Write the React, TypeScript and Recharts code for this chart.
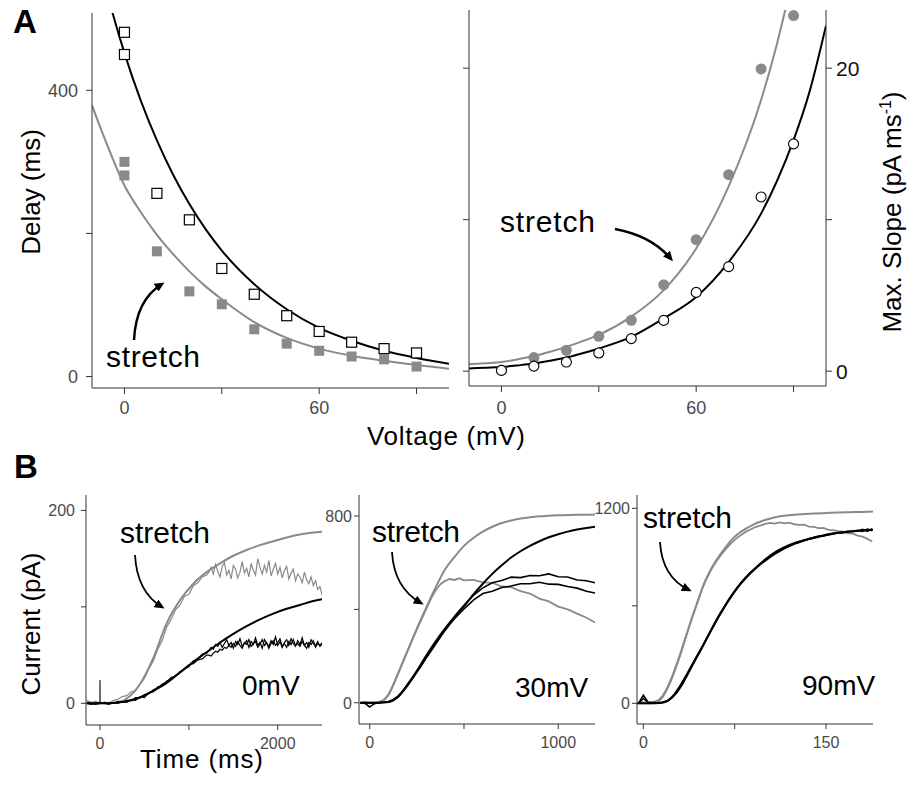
import React from 'react';
import { ComposedChart, LineChart, Line, Scatter, XAxis, YAxis } from 'recharts';

const FONT = '"Liberation Sans", Arial, Helvetica, sans-serif';
const GRAY = '#8a8a8a';
const BLACK = '#000000';
const AXIS = '#333333';
const TICK_TXT = '#4a4a4a';

// ---- Panel A, left: delay vs voltage ----
const delayVolts = [0, 0, 10, 20, 30, 40, 50, 60, 70, 80, 90];
const delayControl = [481, 450, 256, 219, 151, 115, 85, 63, 48, 39, 33];
const delayStretch = [300, 281, 175, 119, 101, 66, 46, 36, 28, 24, 14];
const delayFitVolts = [-10, -5, 0, 5, 10, 15, 20, 25, 30, 40, 50, 60, 70, 80, 90, 100];
const delayFitControl = [620, 530, 452, 386, 330, 282, 241, 206, 176, 129, 94, 68, 50, 36, 26, 18];
const delayFitStretch = [379, 320, 267, 230, 198, 171, 147, 126, 108, 76, 54, 39, 29, 22, 16, 11];

// ---- Panel A, right: max slope vs voltage ----
const slopeVolts = [0, 10, 20, 30, 40, 50, 60, 70, 80, 90];
const slopeControl = [0.05, 0.33, 0.6, 1.2, 2.15, 3.35, 5.2, 6.9, 11.5, 15.0];
const slopeStretch = [0.07, 0.9, 1.38, 2.3, 3.36, 5.7, 8.68, 12.97, 19.95, 23.47];
const slopeFitVolts = [-10, -5, 0, 5, 10, 15, 20, 25, 30, 40, 50, 60, 70, 80, 85, 90, 95, 100];
const slopeFitControl = [0.18, 0.23, 0.28, 0.38, 0.5, 0.68, 0.9, 1.18, 1.5, 2.26, 3.48, 4.9, 7.2, 10.4, 12.6, 15.25, 18.5, 22.8];
const slopeFitStretch = [0.45, 0.52, 0.6, 0.78, 1.0, 1.28, 1.6, 1.98, 2.4, 3.6, 5.35, 8.1, 12.2, 17.9, 21.7, 26.3, 31.9, 38.7];

// ---- Panel B, 0 mV ----
const b1FitTime = [-150, 0, 150, 300, 450, 600, 750, 900, 1050, 1200, 1350, 1500, 1650, 1800, 1950, 2100, 2250, 2400, 2500];
const b1FitStretch = [0, 0, 0.5, 5, 20, 47, 83, 107, 124, 136, 145, 153, 159, 164, 168, 172, 175, 177, 178];
const b1FitControl = [0, 0, 0.3, 2, 6, 13, 21, 32, 43, 53, 63, 72, 80, 87, 93, 98, 102, 106, 108];
const b1TraceTime = [
  -150, -100, -50, 0, 50, 100, 150, 200, 250, 300,
  350, 400, 450, 500, 550, 600, 650, 700, 750, 800,
  850, 900, 950, 1000, 1050, 1100, 1150, 1200,
  1225, 1250, 1275, 1300, 1325, 1350, 1375, 1400, 1425, 1450,
  1475, 1500, 1525, 1550, 1575, 1600, 1625, 1650, 1675, 1700,
  1725, 1750, 1775, 1800, 1825, 1850, 1875, 1900, 1925, 1950,
  1975, 2000, 2025, 2050, 2075, 2100, 2125, 2150, 2175, 2200,
  2225, 2250, 2275, 2300, 2325, 2350, 2375, 2400, 2425, 2450,
  2475, 2500,
];
const b1TraceStretch = [
  3, 1, 2, 0, 1, 0, 3, 4, 7, 8,
  12, 13, 20, 26, 36, 44, 56, 65, 79, 87,
  97, 102, 111, 113, 122, 125, 131, 133,
  136, 141, 134, 144, 137, 131, 142, 146, 133, 138,
  129, 143, 139, 130, 136, 147, 135, 140, 131, 145,
  138, 133, 150, 141, 134, 143, 136, 148, 132, 139,
  145, 134, 141, 130, 138, 142, 129, 135, 139, 127,
  134, 131, 125, 136, 128, 124, 131, 122, 127, 118,
  121, 112,
];
const b1TraceControlA = [
  0, -1, 0, 1, 0, -1, 1, 0, 2, 1,
  4, 3, 7, 6, 11, 12, 17, 18, 23, 25,
  29, 32, 36, 38, 44, 46, 51, 52,
  55, 58, 56, 61, 59, 63, 58, 62, 66, 60,
  63, 57, 64, 61, 67, 59, 62, 65, 58, 64,
  61, 68, 60, 63, 57, 66, 62, 59, 65, 61,
  69, 60, 64, 58, 63, 66, 60, 67, 62, 59,
  65, 61, 68, 60, 63, 58, 66, 62, 60, 64,
  59, 62,
];
const b1TraceControlB = [
  1, 0, -1, 0, 1, 0, 0, 2, 1, 3,
  3, 6, 6, 9, 10, 14, 16, 20, 22, 27,
  28, 33, 35, 40, 41, 45, 46, 50,
  50, 49, 52, 54, 53, 56, 55, 58, 57, 60,
  58, 62, 59, 64, 60, 57, 63, 61, 66, 59,
  62, 64, 58, 61, 66, 60, 63, 57, 62, 65,
  60, 63, 67, 59, 62, 58, 64, 61, 66, 60,
  62, 59, 64, 60, 57, 63, 61, 65, 58, 62,
  60, 63,
];
const b1SpikeTime = [-3, 0, 3];
const b1SpikeValue = [0, 24, 0];

// ---- Panel B, 30 mV ----
const b2FitTime = [-50, 0, 50, 100, 150, 200, 250, 300, 350, 400, 450, 500, 550, 600, 650, 700, 750, 800, 850, 900, 950, 1000, 1050, 1100, 1150, 1195];
const b2FitStretch = [0, 0, 3, 35, 125, 222, 318, 408, 495, 572, 625, 672, 706, 733, 754, 770, 781, 789, 795, 799, 801, 803, 804, 805, 805, 806];
const b2FitControl = [0, 0, 0, 3, 26, 78, 137, 202, 263, 319, 368, 414, 464, 510, 552, 589, 622, 649, 672, 692, 709, 722, 733, 742, 749, 754];
const b2TraceTime = [
  -50, -25, 0, 25, 50, 75, 100, 125, 150, 175,
  200, 225, 250, 275, 300, 325, 350, 375, 400, 425,
  450, 475, 500, 550, 600, 650, 700, 750, 800, 850,
  900, 950, 1000, 1050, 1100, 1150, 1195,
];
const b2TraceStretch = [
  0, 2, -3, 0, 2, 12, 36, 78, 124, 172,
  220, 268, 314, 358, 402, 446, 482, 508, 522, 530,
  526, 533, 524, 526, 516, 514, 498, 495, 478, 468,
  446, 434, 412, 400, 382, 364, 344,
];
const b2TraceControlA = [
  0, -3, -18, -4, 0, 2, 5, 14, 28, 50,
  76, 104, 134, 164, 196, 226, 256, 286, 316, 344,
  370, 394, 418, 460, 492, 514, 524, 538, 536, 545,
  544, 552, 540, 539, 526, 523, 514,
];
const b2TraceControlB = [
  0, 1, 0, -2, 1, 2, 4, 12, 24, 46,
  72, 100, 130, 160, 192, 222, 252, 282, 310, 336,
  360, 382, 402, 440, 468, 478, 494, 500, 510, 510,
  516, 508, 507, 498, 491, 478, 470,
];

// ---- Panel B, 90 mV ----
const b3FitTime = [-5, 0, 5, 10, 15, 20, 25, 30, 35, 40, 45, 50, 55, 60, 65, 70, 75, 80, 90, 100, 110, 120, 130, 140, 150, 160, 170, 180, 189];
const b3FitStretch = [0, 0, 0, 5, 30, 95, 185, 290, 410, 525, 633, 740, 818, 882, 935, 985, 1025, 1055, 1098, 1128, 1148, 1158, 1164, 1168, 1171, 1174, 1176, 1178, 1180];
const b3FitControl = [0, 0, 0, 0, 3, 15, 50, 105, 168, 235, 300, 370, 440, 510, 572, 635, 690, 740, 818, 885, 938, 975, 1000, 1020, 1038, 1050, 1058, 1064, 1068];
const b3TraceTime = [
  -4, 0, 4, 8, 12, 16, 20, 24, 28, 32,
  36, 40, 44, 48, 52, 56, 60, 64, 68, 72,
  76, 80, 84, 88, 92, 96, 100, 104, 108, 112,
  116, 120, 124, 128, 132, 136, 140, 144, 148, 152,
  156, 160, 164, 168, 172, 176, 180, 184, 188,
];
const b3TraceStretch = [
  5, 8, 2, 6, 18, 48, 100, 172, 255, 345,
  438, 530, 615, 700, 768, 826, 874, 915, 952, 985,
  1012, 1035, 1055, 1070, 1085, 1094, 1104, 1110, 1106, 1114,
  1108, 1112, 1102, 1098, 1100, 1088, 1086, 1078, 1080, 1068,
  1066, 1060, 1056, 1046, 1044, 1032, 1026, 1012, 996,
];
const b3TraceControlA = [
  0, 50, 6, 2, 4, 8, 18, 42, 78, 125,
  180, 238, 292, 345, 402, 458, 515, 566, 614, 660,
  702, 738, 772, 806, 832, 858, 882, 902, 922, 942,
  956, 972, 984, 994, 1004, 1012, 1020, 1028, 1032, 1040,
  1046, 1050, 1052, 1058, 1060, 1064, 1058, 1072, 1062,
];
const b3TraceControlB = [
  0, 30, 5, 6, 2, 5, 14, 36, 70, 116,
  170, 228, 284, 338, 396, 452, 506, 560, 608, 654,
  696, 734, 768, 800, 828, 854, 876, 898, 918, 936,
  952, 966, 980, 990, 1000, 1010, 1016, 1024, 1030, 1036,
  1042, 1048, 1050, 1054, 1058, 1060, 1070, 1058, 1074,
];

const zip = (xs: number[], ys: number[]) => xs.map((x, i) => ({ x, y: ys[i] }));

type TickOpts = { labels: number[]; size: number; color: string; dy: string };

function makeTick({ labels, size, color, dy }: TickOpts) {
  return (props: any) => {
    const { x, y, payload, textAnchor } = props;
    if (!labels.includes(payload.value)) return <g />;
    return (
      <text x={x} y={y} dy={dy} textAnchor={textAnchor} fontSize={size} fill={color} fontFamily={FONT}>
        {payload.value}
      </text>
    );
  };
}

const axisLine = { stroke: AXIS, strokeWidth: 1 };

function OpenSquare(props: any) {
  const { cx, cy } = props;
  return <rect x={cx - 5} y={cy - 5} width={10} height={10} fill="#fff" stroke={BLACK} strokeWidth={1.2} />;
}
function FilledSquare(props: any) {
  const { cx, cy } = props;
  return <rect x={cx - 5} y={cy - 5} width={10} height={10} fill={GRAY} stroke="none" />;
}
function OpenCircle(props: any) {
  const { cx, cy } = props;
  return <circle cx={cx} cy={cy} r={5} fill="#fff" stroke={BLACK} strokeWidth={1.1} />;
}
function FilledCircle(props: any) {
  const { cx, cy } = props;
  return <circle cx={cx} cy={cy} r={5.5} fill={GRAY} stroke="none" />;
}

function DelayPanel() {
  return (
    <ComposedChart width={460} height={450} margin={{ top: 13, right: 11, bottom: 32, left: 0 }}>
      <XAxis
        type="number" dataKey="x" domain={[-10, 100]} ticks={[0, 30, 60, 90]} allowDataOverflow
        height={30} axisLine={axisLine} tickLine={axisLine} tickSize={6} tickMargin={7}
        tick={makeTick({ labels: [0, 60], size: 18, color: TICK_TXT, dy: '0.72em' })}
      />
      <YAxis
        type="number" domain={[-16, 508]} ticks={[0, 200, 400]} allowDataOverflow width={92}
        axisLine={axisLine} tickLine={axisLine} tickSize={6} tickMargin={8}
        tick={makeTick({ labels: [0, 400], size: 18, color: TICK_TXT, dy: '0.36em' })}
      />
      <Line data={zip(delayFitVolts, delayFitStretch)} dataKey="y" type="monotone" stroke={GRAY} strokeWidth={2} dot={false} isAnimationActive={false} />
      <Line data={zip(delayFitVolts, delayFitControl)} dataKey="y" type="monotone" stroke={BLACK} strokeWidth={2} dot={false} isAnimationActive={false} />
      <Scatter data={zip(delayVolts, delayStretch)} dataKey="y" shape={FilledSquare} isAnimationActive={false} />
      <Scatter data={zip(delayVolts, delayControl)} dataKey="y" shape={OpenSquare} isAnimationActive={false} />
    </ComposedChart>
  );
}

function SlopePanel() {
  return (
    <ComposedChart width={477} height={450} margin={{ top: 10, right: 0, bottom: 34, left: 0 }}>
      <XAxis
        type="number" dataKey="x" domain={[-10, 100]} ticks={[0, 30, 60, 90]} allowDataOverflow
        height={30} axisLine={axisLine} tickLine={axisLine} tickSize={6} tickMargin={9}
        tick={makeTick({ labels: [0, 60], size: 18, color: TICK_TXT, dy: '0.72em' })}
      />
      <YAxis
        yAxisId="l" type="number" domain={[-0.98, 23.84]} ticks={[0, 10, 20]} allowDataOverflow width={29}
        axisLine={axisLine} tickLine={axisLine} tickSize={6} tick={makeTick({ labels: [], size: 18, color: TICK_TXT, dy: '0.36em' })}
      />
      <YAxis
        yAxisId="r" orientation="right" type="number" domain={[-0.98, 23.84]} ticks={[0, 10, 20]} allowDataOverflow width={91}
        axisLine={axisLine} tickLine={axisLine} tickSize={6} tickMargin={4}
        tick={makeTick({ labels: [0, 20], size: 21, color: '#111', dy: '0.36em' })}
      />
      <Line yAxisId="r" data={zip(slopeFitVolts, slopeFitStretch)} dataKey="y" type="monotone" stroke={GRAY} strokeWidth={2} dot={false} isAnimationActive={false} />
      <Line yAxisId="r" data={zip(slopeFitVolts, slopeFitControl)} dataKey="y" type="monotone" stroke={BLACK} strokeWidth={2} dot={false} isAnimationActive={false} />
      <Scatter yAxisId="r" data={zip(slopeVolts, slopeStretch)} dataKey="y" shape={FilledCircle} isAnimationActive={false} />
      <Scatter yAxisId="r" data={zip(slopeVolts, slopeControl)} dataKey="y" shape={OpenCircle} isAnimationActive={false} />
    </ComposedChart>
  );
}

type Trace = { data: { x: number; y: number }[]; color: string; width: number; smooth?: boolean };

type TraceProps = {
  width: number;
  yAxisWidth: number;
  rightMargin: number;
  bottom: number;
  xDomain: [number, number];
  yDomain: [number, number];
  xTicks: number[];
  yTicks: number[];
  xLabels: number[];
  yLabels: number[];
  yTickMargin: number;
  traces: Trace[];
};

function TracePanel(p: TraceProps) {
  return (
    <LineChart width={p.width} height={305} margin={{ top: 15, right: p.rightMargin, bottom: p.bottom, left: 0 }}>
      <XAxis
        type="number" dataKey="x" domain={p.xDomain} ticks={p.xTicks} allowDataOverflow height={30}
        axisLine={axisLine} tickLine={axisLine} tickSize={5} tickMargin={7}
        tick={makeTick({ labels: p.xLabels, size: 16, color: TICK_TXT, dy: '0.72em' })}
      />
      <YAxis
        type="number" domain={p.yDomain} ticks={p.yTicks} allowDataOverflow width={p.yAxisWidth}
        axisLine={axisLine} tickLine={axisLine} tickSize={5} tickMargin={p.yTickMargin}
        tick={makeTick({ labels: p.yLabels, size: 16, color: TICK_TXT, dy: '0.36em' })}
      />
      {p.traces.map((t, i) => (
        <Line
          key={i} data={t.data} dataKey="y" type={t.smooth ? 'monotone' : 'linear'}
          stroke={t.color} strokeWidth={t.width} dot={false} isAnimationActive={false}
        />
      ))}
    </LineChart>
  );
}

const textStyle = { fontFamily: FONT, fill: '#000' } as const;

function Overlay() {
  return (
    <svg width={917} height={785} style={{ position: 'absolute', left: 0, top: 0, pointerEvents: 'none' }}>
      <defs>
        <marker id="ah" markerWidth={10} markerHeight={9} refX={7} refY={4.5} orient="auto" markerUnits="userSpaceOnUse">
          <path d="M0,0 L10,4.5 L0,9 z" fill="#000" />
        </marker>
      </defs>
      <text x={13} y={33} fontSize={33} fontWeight={700} style={textStyle}>A</text>
      <text x={14} y={478} fontSize={33} fontWeight={700} style={textStyle}>B</text>

      <text transform="translate(40,192) rotate(-90)" textAnchor="middle" fontSize={26} style={textStyle}>Delay (ms)</text>
      <text x={367} y={445} fontSize={26} textLength={158} style={textStyle}>Voltage (mV)</text>
      <text transform="translate(901,212) rotate(-90)" textAnchor="middle" fontSize={26} style={textStyle}>
        Max. Slope (pA ms<tspan dy={-10} fontSize={16}>-1</tspan><tspan dy={10}>)</tspan>
      </text>
      <text transform="translate(40,624) rotate(-90)" textAnchor="middle" fontSize={26} style={textStyle}>Current (pA)</text>
      <text x={140} y={768} fontSize={26} textLength={123} style={textStyle}>Time (ms)</text>

      <text x={106} y={367} fontSize={30} textLength={94} style={textStyle}>stretch</text>
      <text x={500} y={232} fontSize={30} textLength={95} style={textStyle}>stretch</text>
      <text x={120} y={543} fontSize={30} textLength={90} style={textStyle}>stretch</text>
      <text x={372} y={542} fontSize={30} textLength={88} style={textStyle}>stretch</text>
      <text x={643} y={528} fontSize={30} textLength={89} style={textStyle}>stretch</text>

      <text x={242} y={695} fontSize={28} style={textStyle}>0mV</text>
      <text x={515} y={697} fontSize={28} style={textStyle}>30mV</text>
      <text x={802} y={695} fontSize={28} style={textStyle}>90mV</text>

      <g fill="none" stroke="#000" strokeWidth={2.5}>
        <path d="M134,340 Q136,300 162,284" markerEnd="url(#ah)" />
        <path d="M615,229 Q652,236 671,259" markerEnd="url(#ah)" />
      </g>
      <g fill="none" stroke="#000" strokeWidth={1.8}>
        <path d="M135,555 Q137,592 162,607" markerEnd="url(#ah)" />
        <path d="M392,552 Q394,588 421,603" markerEnd="url(#ah)" />
        <path d="M660,542 Q662,577 689,590" markerEnd="url(#ah)" />
      </g>
    </svg>
  );
}

export default function App() {
  return (
    <div style={{ position: 'relative', width: 917, height: 785, margin: -8, background: '#fff', overflow: 'hidden' }}>
      <div style={{ position: 'absolute', left: 0, top: 0 }}>
        <DelayPanel />
      </div>
      <div style={{ position: 'absolute', left: 440, top: 0 }}>
        <SlopePanel />
      </div>
      <div style={{ position: 'absolute', left: 0, top: 480 }}>
        <TracePanel
          width={330} yAxisWidth={86} rightMargin={8} bottom={30} yTickMargin={6}
          xDomain={[-158, 2498]} yDomain={[-22.5, 216]} xTicks={[0, 1000, 2000]} yTicks={[0, 100, 200]}
          xLabels={[0, 2000]} yLabels={[0, 200]}
          traces={[
            { data: zip(b1SpikeTime, b1SpikeValue), color: '#444', width: 1 },
            { data: zip(b1TraceTime, b1TraceStretch), color: GRAY, width: 1.2 },
            { data: zip(b1FitTime, b1FitStretch), color: GRAY, width: 2, smooth: true },
            { data: zip(b1TraceTime, b1TraceControlA), color: BLACK, width: 1.2 },
            { data: zip(b1TraceTime, b1TraceControlB), color: BLACK, width: 1.2 },
            { data: zip(b1FitTime, b1FitControl), color: BLACK, width: 2, smooth: true },
          ]}
        />
      </div>
      <div style={{ position: 'absolute', left: 300, top: 480 }}>
        <TracePanel
          width={305} yAxisWidth={59} rightMargin={10} bottom={31} yTickMargin={2}
          xDomain={[-57, 1195]} yDomain={[-91, 890]} xTicks={[0, 500, 1000]} yTicks={[0, 400, 800]}
          xLabels={[0, 1000]} yLabels={[0, 800]}
          traces={[
            { data: zip(b2TraceTime, b2TraceStretch), color: GRAY, width: 1.8 },
            { data: zip(b2FitTime, b2FitStretch), color: GRAY, width: 2, smooth: true },
            { data: zip(b2TraceTime, b2TraceControlA), color: BLACK, width: 1.6 },
            { data: zip(b2TraceTime, b2TraceControlB), color: BLACK, width: 1.6 },
            { data: zip(b2FitTime, b2FitControl), color: BLACK, width: 2, smooth: true },
          ]}
        />
      </div>
      <div style={{ position: 'absolute', left: 590, top: 480 }}>
        <TracePanel
          width={327} yAxisWidth={47} rightMargin={44} bottom={31} yTickMargin={2}
          xDomain={[-5.2, 188.6]} yDomain={[-127, 1282]} xTicks={[0, 75, 150]} yTicks={[0, 600, 1200]}
          xLabels={[0, 150]} yLabels={[0, 1200]}
          traces={[
            { data: zip(b3TraceTime, b3TraceStretch), color: GRAY, width: 1.8 },
            { data: zip(b3FitTime, b3FitStretch), color: GRAY, width: 2, smooth: true },
            { data: zip(b3TraceTime, b3TraceControlA), color: BLACK, width: 1.6 },
            { data: zip(b3TraceTime, b3TraceControlB), color: BLACK, width: 1.6 },
            { data: zip(b3FitTime, b3FitControl), color: BLACK, width: 2, smooth: true },
          ]}
        />
      </div>
      <Overlay />
    </div>
  );
}
